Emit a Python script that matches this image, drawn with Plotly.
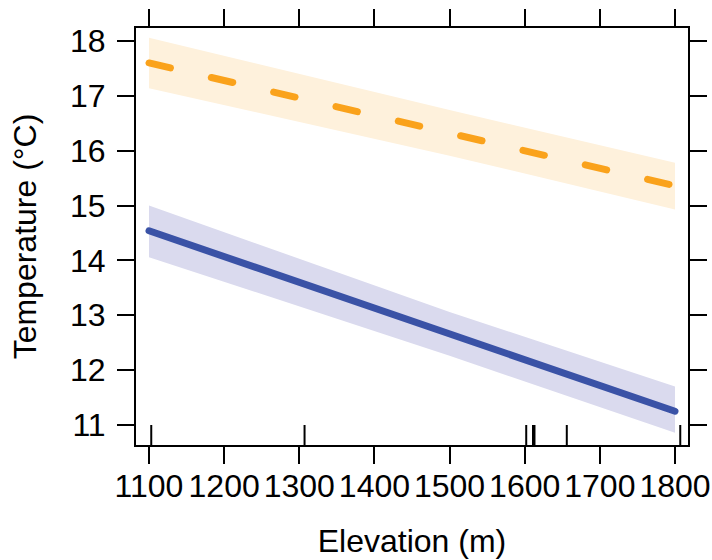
import plotly.graph_objects as go

# Effect of elevation on temperature, two fitted series with confidence bands
elevation = [1100, 1500, 1800]

warm_fit = [17.60, 16.32, 15.36]
warm_lower = [17.14, 15.91, 14.93]
warm_upper = [18.06, 16.74, 15.78]

cool_fit = [14.54, 12.66, 11.25]
cool_lower = [14.06, 12.26, 10.86]
cool_upper = [15.00, 13.06, 11.70]

# observed elevations shown as a rug along the bottom axis
rug_elevation = [1103, 1307, 1602, 1611, 1613, 1656, 1807]

x_ticks = [1100, 1200, 1300, 1400, 1500, 1600, 1700, 1800]
y_ticks = [11, 12, 13, 14, 15, 16, 17, 18]

FONT = "Liberation Sans, Arial, sans-serif"

fig = go.Figure()


def band(x, lo, hi, color):
    return go.Scatter(
        x=list(x) + list(x)[::-1],
        y=list(hi) + list(lo)[::-1],
        fill="toself",
        fillcolor=color,
        line=dict(width=0),
        mode="lines",
        hoverinfo="skip",
        showlegend=False,
    )


fig.add_trace(band(elevation, warm_lower, warm_upper, "#FEF1DC"))
fig.add_trace(band(elevation, cool_lower, cool_upper, "#DADAEE"))

fig.add_trace(go.Scatter(
    x=elevation, y=warm_fit, mode="lines",
    line=dict(color="#FAA21B", width=7, dash="22px,42px"),
    showlegend=False,
))
fig.add_trace(go.Scatter(
    x=elevation, y=cool_fit, mode="lines",
    line=dict(color="#3A52A6", width=7),
    showlegend=False,
))

for v in rug_elevation:
    fig.add_shape(
        type="line", xref="x", yref="y domain",
        x0=v, x1=v, y0=0, y1=0.048,
        line=dict(color="black", width=2),
    )

axis_common = dict(
    showline=True, linewidth=2, linecolor="black",
    mirror="allticks", ticks="outside", ticklen=17, tickwidth=2,
    tickcolor="black", showgrid=False, zeroline=False, automargin=False,
    tickfont=dict(family=FONT, size=32, color="black"),
)

fig.update_xaxes(
    range=[1082.7, 1817.3], tickvals=x_ticks,
    ticktext=[str(t) for t in x_ticks],
    title=dict(text="Elevation (m)", font=dict(family=FONT, size=32, color="black"), standoff=26),
    ticklabelstandoff=-5,
    **axis_common,
)
fig.update_yaxes(
    range=[10.635, 18.237], tickvals=y_ticks,
    ticktext=[str(t) for t in y_ticks],
    title=dict(text="Temperature (°C)", font=dict(family=FONT, size=32, color="black"), standoff=24),
    ticklabelstandoff=5,
    **axis_common,
)

fig.update_layout(
    width=712, height=560,
    margin=dict(l=136, r=24, t=28, b=115),
    plot_bgcolor="white", paper_bgcolor="white",
    font=dict(family=FONT, color="black"),
)

round_caps = """
document.querySelectorAll('.scatterlayer .js-line').forEach(function (p) {
  p.style.strokeLinecap = 'round';
});
"""

fig.write_html("out.html", post_script=round_caps, config={"displayModeBar": False})
